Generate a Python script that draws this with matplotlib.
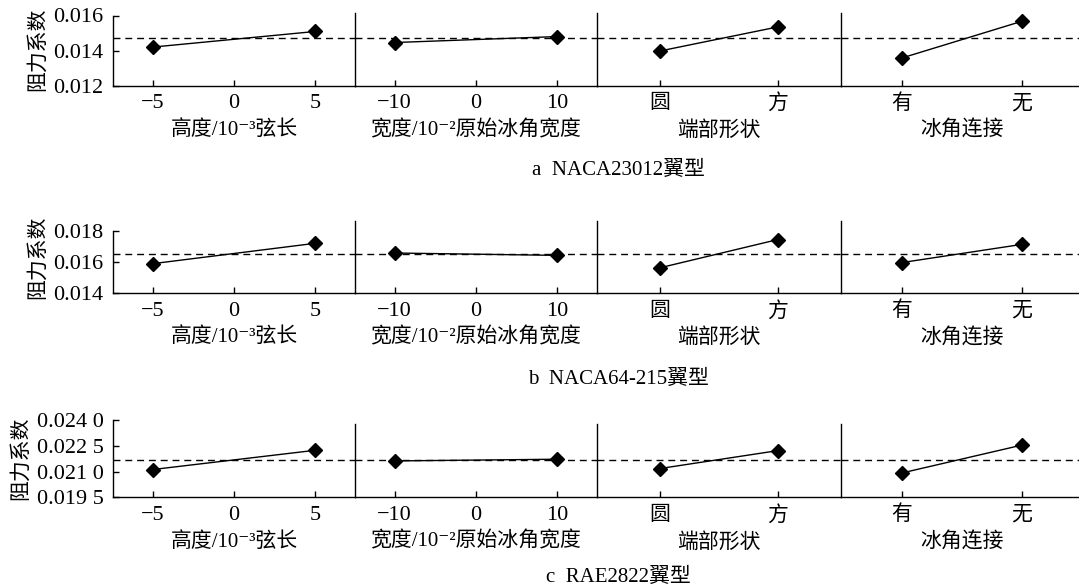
import matplotlib
matplotlib.use("Agg")
import matplotlib.pyplot as plt

plt.rcParams['font.family'] = ['Liberation Serif', 'Noto Sans CJK SC', 'DejaVu Sans']
plt.rcParams['axes.unicode_minus'] = True

# ---------------- data ----------------
height_levels = [-5, 5]
width_levels = [-10, 10]
shape_levels = [0, 1]
connect_levels = [0, 1]
height_ticklabels = ['−5', '0', '5']
width_ticklabels = ['−10', '0', '10']
shape_ticklabels = ['圆', '方']
connect_ticklabels = ['有', '无']
factor_names = ['高度/10⁻³弦长', '宽度/10⁻²原始冰角宽度', '端部形状', '冰角连接']

# drag coefficient per factor level (row a, b, c)
naca23012_height = [0.01420, 0.01509]
naca23012_width = [0.01446, 0.01480]
naca23012_shape = [0.01398, 0.01535]
naca23012_connect = [0.01358, 0.01567]
naca23012_mean = 0.01472

naca64_height = [0.01589, 0.01719]
naca64_width = [0.01657, 0.01642]
naca64_shape = [0.01563, 0.01743]
naca64_connect = [0.01596, 0.01712]
naca64_mean = 0.01653

rae2822_height = [0.02112, 0.02224]
rae2822_width = [0.02162, 0.02172]
rae2822_shape = [0.02118, 0.02222]
rae2822_connect = [0.02092, 0.02254]
rae2822_mean = 0.02168

captions = ['a  NACA23012翼型', 'b  NACA64-215翼型', 'c  RAE2822翼型']
ytick_vals_a = [0.012, 0.014, 0.016]
ytick_labels_a = ['0.012', '0.014', '0.016']
ytick_vals_b = [0.014, 0.016, 0.018]
ytick_labels_b = ['0.014', '0.016', '0.018']
ytick_vals_c = [0.0195, 0.0210, 0.0225, 0.0240]
ytick_labels_c = ['0.019 5', '0.021 0', '0.022 5', '0.024 0']

# ---------------- layout (pixels) ----------------
W, H = 1079, 588
fig = plt.figure(figsize=(W / 100, H / 100), dpi=100)
fig.patch.set_facecolor('white')

edges = [113.3, 354.7, 597.3, 840.7, 1083.0]
xlims = [(-7.42, 7.42), (-14.9, 14.9), (-0.534, 1.534), (-0.51, 1.51)]
xticks = [[-5, 0, 5], [-10, 0, 10], [0, 1], [0, 1]]
xticklabels = [height_ticklabels, width_ticklabels, shape_ticklabels, connect_ticklabels]
xlevels = [height_levels, width_levels, shape_levels, connect_levels]

rows = [
    dict(vals=[naca23012_height, naca23012_width, naca23012_shape, naca23012_connect],
         mean=naca23012_mean, yt=ytick_vals_a, ytl=ytick_labels_a,
         pix_bot=85.7, pix_toptick=15.5, septop=0.01614, caption_y=170),
    dict(vals=[naca64_height, naca64_width, naca64_shape, naca64_connect],
         mean=naca64_mean, yt=ytick_vals_b, ytl=ytick_labels_b,
         pix_bot=293.3, pix_toptick=230.6, septop=0.018615, caption_y=379),
    dict(vals=[rae2822_height, rae2822_width, rae2822_shape, rae2822_connect],
         mean=rae2822_mean, yt=ytick_vals_c, ytl=ytick_labels_c,
         pix_bot=497.4, pix_toptick=420.0, septop=0.02378, caption_y=577),
]

FS = 15
TFS = 16
for r, row in enumerate(rows):
    ybot, ytop = row['yt'][0], row['yt'][-1]
    ppv = (row['pix_bot'] - row['pix_toptick']) / (ytop - ybot)
    lim_top = max(ytop, row['septop'])
    pix_top = row['pix_bot'] - (lim_top - ybot) * ppv
    for p in range(4):
        x0, x1 = edges[p], edges[p + 1]
        ax = fig.add_axes([x0 / W, 1 - row['pix_bot'] / H, (x1 - x0) / W,
                           (row['pix_bot'] - pix_top) / H])
        ax.set_facecolor('none')
        ax.set_xlim(*xlims[p])
        ax.set_ylim(ybot, lim_top)
        ax.axhline(row['mean'], color='black', lw=1.0, ls=(0, (5, 3.5)), zorder=1)
        ax.plot(xlevels[p], row['vals'][p], color='black', lw=1.0,
                marker='D', markersize=7.5, zorder=3, clip_on=False)
        for s in ['top', 'right']:
            ax.spines[s].set_visible(False)
        for s in ['left', 'bottom']:
            ax.spines[s].set_linewidth(1.0)
        ax.set_xticks(xticks[p])
        ax.set_xticklabels(xticklabels[p], fontsize=TFS if p < 2 else FS)
        ax.tick_params(axis='x', direction='in', length=4, width=1.0, pad=6)
        ax.set_xlabel(factor_names[p], fontsize=FS, labelpad=5)
        if p == 0:
            ax.spines['left'].set_bounds(ybot, ytop)
            ax.set_yticks(row['yt'])
            ax.set_yticklabels(row['ytl'], fontsize=TFS)
            ax.tick_params(axis='y', direction='in', length=4, width=1.0, pad=7)
            ax.set_ylabel('阻力系数', fontsize=FS, labelpad=4)
        else:
            ax.spines['left'].set_bounds(ybot, row['septop'])
            ax.set_yticks([])
    fig.text(618 / W, 1 - row['caption_y'] / H, captions[r], fontsize=FS,
             ha='center', va='center')

fig.savefig('out.png', dpi=100, facecolor='white')
